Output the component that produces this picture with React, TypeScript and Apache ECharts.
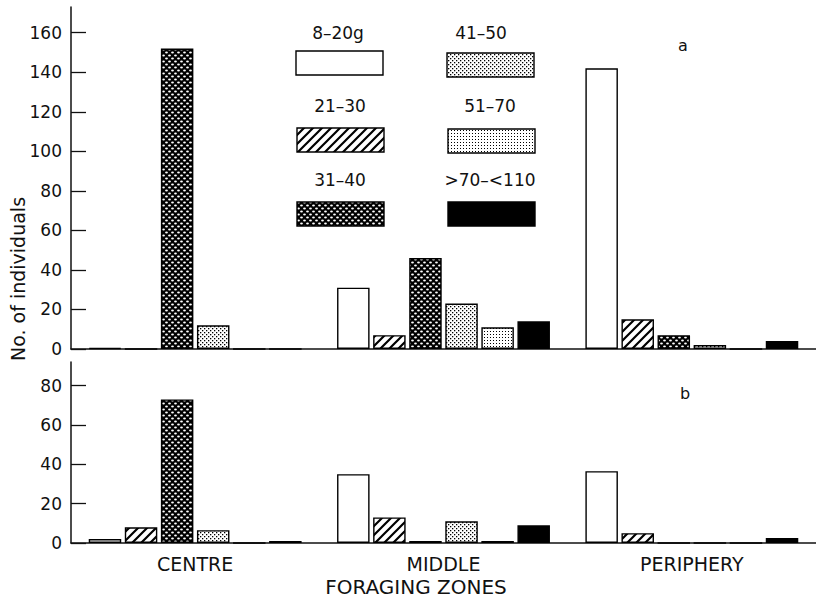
import React, { useEffect, useRef } from 'react';
import * as echarts from 'echarts';

// ---- data ----
const zones = ['CENTRE', 'MIDDLE', 'PERIPHERY'];
const classNames = ['8–20g', '21–30', '31–40', '41–50', '51–70', '>70–<110'];

// panel a (values per zone: CENTRE, MIDDLE, PERIPHERY)
const a_8_20 = [0.5, 31, 142];
const a_21_30 = [0, 7, 15];
const a_31_40 = [152, 46, 7];
const a_41_50 = [12, 23, 2];
const a_51_70 = [0, 11, 0];
const a_70_110 = [0, 14, 4];

// panel b
const b_8_20 = [2, 35, 36.5];
const b_21_30 = [8, 13, 5];
const b_31_40 = [73, 1, 0];
const b_41_50 = [6.5, 11, 0];
const b_51_70 = [0, 1, 0];
const b_70_110 = [1, 9, 2.5];

const ticksA = [0, 20, 40, 60, 80, 100, 120, 140, 160];
const ticksB = [0, 20, 40, 60, 80];

const FONT = 'DejaVu Sans';
const INK = '#111';

function makePattern(kind: string): any {
  const c = document.createElement('canvas');
  let w = 4, h = 4;
  if (kind === 'hatch') { w = 9; h = 9; }
  if (kind === 'mesh') { w = 6; h = 6; }
  if (kind === 'dots41') { w = 4; h = 4; }
  if (kind === 'dots51') { w = 3; h = 3; }
  c.width = w; c.height = h;
  const ctx = c.getContext('2d')!;
  ctx.fillStyle = '#fff';
  ctx.fillRect(0, 0, w, h);
  if (kind === 'hatch') {
    ctx.strokeStyle = '#000';
    ctx.lineWidth = 2.2;
    ctx.beginPath();
    ctx.moveTo(-1, h + 1); ctx.lineTo(w + 1, -1);
    ctx.moveTo(-2, 2); ctx.lineTo(2, -2);
    ctx.moveTo(w - 2, h + 2); ctx.lineTo(w + 2, h - 2);
    ctx.stroke();
  } else if (kind === 'mesh') {
    ctx.fillStyle = '#000';
    ctx.fillRect(0, 0, w, h);
    ctx.fillStyle = '#fff';
    const blob = (x: number, y: number) => {
      ctx.beginPath();
      ctx.ellipse(x, y, 1.4, 1.0, 0, 0, Math.PI * 2);
      ctx.fill();
    };
    blob(1.5, 1.5);
    blob(4.5, 4.5);
    blob(4.5 - 6, 4.5);
    blob(1.5 + 6, 1.5);
  } else if (kind === 'dots41') {
    ctx.fillStyle = '#000';
    ctx.fillRect(0, 0, 1.3, 1.3);
    ctx.fillRect(2, 2, 1.3, 1.3);
  } else if (kind === 'dots51') {
    ctx.fillStyle = '#000';
    ctx.fillRect(1, 1, 1, 1);
  }
  return { image: c, repeat: 'repeat' };
}

export default function App() {
  const ref = useRef<HTMLDivElement>(null);

  useEffect(() => {
    if (!ref.current) return;
    const chart = echarts.init(ref.current, undefined, { renderer: 'svg' });

    const fills: any[] = [
      '#fff',
      makePattern('hatch'),
      makePattern('mesh'),
      makePattern('dots41'),
      makePattern('dots51'),
      '#000',
    ];
    const aData = [a_8_20, a_21_30, a_31_40, a_41_50, a_51_70, a_70_110];
    const bData = [b_8_20, b_21_30, b_31_40, b_41_50, b_51_70, b_70_110];

    const series: any[] = [];
    [aData, bData].forEach((set, panel) => {
      set.forEach((vals, i) => {
        series.push({
          type: 'bar',
          name: classNames[i],
          xAxisIndex: panel,
          yAxisIndex: panel,
          data: vals,
          barWidth: 32.5,
          barGap: '11%',
          itemStyle: { color: fills[i], borderColor: '#000', borderWidth: 1.4 },
          emphasis: { disabled: true },
        });
      });
    });

    const legendPos = [
      { tx: 338, ty: 33, x: 296, y: 51 },
      { tx: 340, ty: 106, x: 297, y: 128 },
      { tx: 340, ty: 180, x: 297, y: 202 },
      { tx: 481, ty: 33, x: 447, y: 53 },
      { tx: 490, ty: 106, x: 448, y: 129 },
      { tx: 490, ty: 180, x: 448, y: 202 },
    ];
    const legendGraphics: any[] = [];
    classNames.forEach((nm, i) => {
      const p = legendPos[i];
      legendGraphics.push({
        type: 'text', x: p.tx, y: p.ty,
        style: { text: nm, fill: INK, font: `17px "${FONT}"`, textAlign: 'center', textVerticalAlign: 'middle' },
      });
      legendGraphics.push({
        type: 'rect', shape: { x: p.x, y: p.y, width: 87, height: 24 },
        style: { fill: fills[i], stroke: '#000', lineWidth: 1.4 },
      });
    });

    const yAxisCommon = (gi: number, max: number, ticks: number[]) => ({
      type: 'value', gridIndex: gi, min: 0, max,
      axisLine: { show: true, lineStyle: { color: INK, width: 1.5 } },
      axisTick: { show: true, inside: true, length: 15, lineStyle: { color: INK, width: 1.3 }, customValues: ticks },
      axisLabel: { color: INK, fontSize: 17, fontFamily: FONT, margin: 9, customValues: ticks },
      splitLine: { show: false },
    });

    chart.setOption({
      animation: false,
      grid: [
        { left: 71, right: -11, top: 7, height: 342 },
        { left: 71, right: -11, top: 362, height: 181 },
      ],
      xAxis: [
        {
          type: 'category', gridIndex: 0, data: zones,
          axisLine: { lineStyle: { color: INK, width: 1.5 } },
          axisTick: { show: false }, axisLabel: { show: false },
        },
        {
          type: 'category', gridIndex: 1, data: zones,
          axisLine: { lineStyle: { color: INK, width: 1.5 } },
          axisTick: { show: false },
          axisLabel: { color: INK, fontSize: 19, fontFamily: FONT, margin: 11 },
        },
      ],
      yAxis: [yAxisCommon(0, 173, ticksA), yAxisCommon(1, 92, ticksB)],
      series,
      graphic: [
        ...legendGraphics,
        { type: 'text', x: 683, y: 45, style: { text: 'a', fill: INK, font: `16px "${FONT}"`, textAlign: 'center', textVerticalAlign: 'middle' } },
        { type: 'text', x: 685, y: 393, style: { text: 'b', fill: INK, font: `16px "${FONT}"`, textAlign: 'center', textVerticalAlign: 'middle' } },
        { type: 'text', x: 18, y: 279, rotation: Math.PI / 2, style: { text: 'No. of individuals', fill: INK, font: `19px "${FONT}"`, textAlign: 'center', textVerticalAlign: 'middle' } },
        { type: 'text', x: 416, y: 587, style: { text: 'FORAGING ZONES', fill: INK, font: `20px "${FONT}"`, textAlign: 'center', textVerticalAlign: 'middle' } },
      ],
    });

    return () => chart.dispose();
  }, []);

  return <div ref={ref} style={{ width: 816, height: 601, position: 'absolute', left: 0, top: 0, background: '#fff' }} />;
}
